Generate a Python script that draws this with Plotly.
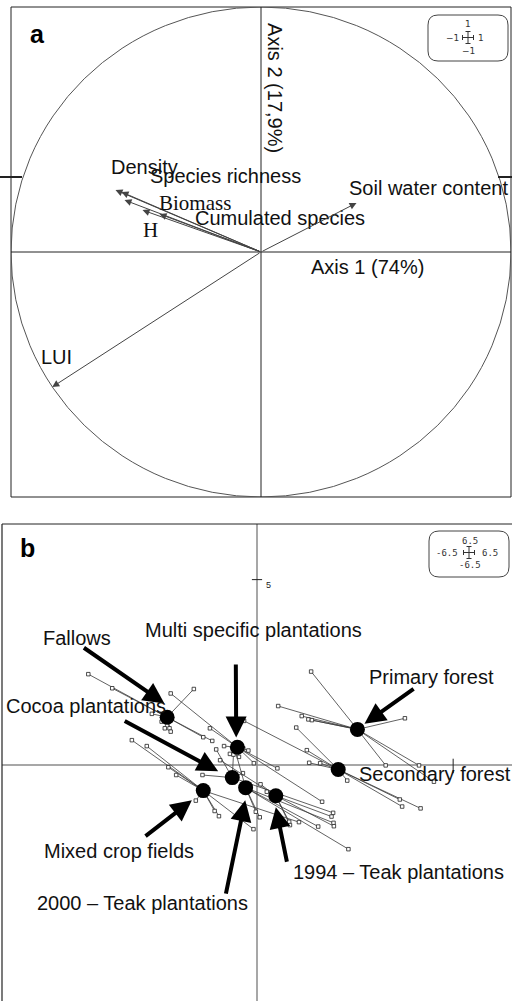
import plotly.graph_objects as go

# ---------------- Data: panel a (correlation circle) ----------------
var_names = ["Density", "Species richness", "Biomass", "H",
             "Cumulated species", "Soil water content", "LUI"]
var_x = [-0.582, -0.558, -0.546, -0.474, -0.406, 0.382, -0.835]
var_y = [0.253, 0.245, 0.212, 0.171, 0.155, 0.200, -0.551]
axis1_label = "Axis 1 (74%)"
axis2_label = "Axis 2 (17,9%)"

# ---------------- Data: panel b (site scores per land use) ----------------
group_names = ["Fallows", "Multi specific plantations", "Cocoa plantations",
               "Mixed crop fields", "2000 – Teak plantations",
               "1994 – Teak plantations", "Primary forest", "Secondary forest"]
centroid_x = [-2.29, -0.50, -0.63, -1.37, -0.29, 0.48, 2.56, 2.07]
centroid_y = [1.29, 0.48, -0.34, -0.69, -0.61, -0.83, 0.96, -0.12]

fallows_x = [-4.30, -3.69, -1.61, -2.68, -2.43, -2.35, -2.23, -2.20, -1.37, -1.14]
fallows_y = [2.45, 2.07, 2.05, 1.38, 1.17, 0.99, 0.99, 0.90, 0.75, 0.65]
multi_x = [-2.20, -1.20, -0.84, -0.69, -0.46, -0.35, -0.22, -0.08, 0.52, 1.66]
multi_y = [1.93, 0.99, 0.51, 0.30, 0.22, 0.45, 0.39, 0.05, -0.09, -0.99]
cocoa_x = [-1.39, -1.04, -0.36, -0.60, 1.94]
cocoa_y = [-0.27, 0.42, -0.22, 0.28, -1.29]
mixed_x = [-3.19, -2.81, -2.26, -2.06, -1.56, -1.08, -0.97, -0.09, 1.07]
mixed_y = [0.67, 0.51, -0.06, -0.27, -0.96, -1.24, -1.38, -1.73, -1.54]
teak2000_x = [-0.03, 0.07, -0.56, 1.95, 1.56, 2.33]
teak2000_y = [-1.26, -1.41, 0.40, -1.56, -1.66, -2.27]
teak1994_x = [0.09, 0.25, 0.82, 0.84, 1.90, 1.96, -0.94]
teak1994_y = [-0.52, -0.72, -1.53, -1.62, -1.39, -1.65, 0.13]
primary_x = [1.38, 0.54, 1.14, 1.31, 1.40, 3.77, 3.28, 4.13, 4.51]
primary_y = [2.52, 1.59, 1.32, 1.23, 1.21, 1.26, -0.01, -0.01, -0.45]
secondary_x = [1.00, 1.27, 1.33, 1.61, -0.33, 2.30, 3.64, 3.70, 4.17]
secondary_y = [1.01, 0.40, 0.06, 0.05, 1.19, -0.42, -0.93, -1.12, -1.17]

group_points = [(fallows_x, fallows_y), (multi_x, multi_y), (cocoa_x, cocoa_y),
                (mixed_x, mixed_y), (teak2000_x, teak2000_y),
                (teak1994_x, teak1994_y), (primary_x, primary_y),
                (secondary_x, secondary_y)]

# ---------------- Layout configuration ----------------
W, H = 512, 1001
FONT = "Liberation Sans, Arial, sans-serif"
SERIF = "Liberation Serif, Times New Roman, serif"

def X(px):
    return px / W

def Y(py):
    return 1 - py / H

# label placement for panel a (data coords of x, y)
var_label_pos = {
    "Density": (-0.466, 0.347), "Species richness": (-0.144, 0.310),
    "Biomass": (-0.266, 0.200), "H": (-0.444, 0.090),
    "Cumulated species": (0.076, 0.139), "Soil water content": (0.668, 0.261),
    "LUI": (-0.82, -0.429),
}
serif_labels = {"Biomass", "H"}

# label placement & callout arrows for panel b (data coords)
group_label_pos = {
    "Fallows": (-4.60, 3.43), "Multi specific plantations": (-0.08, 3.64),
    "Cocoa plantations": (-4.36, 1.59), "Mixed crop fields": (-3.53, -2.32),
    "2000 – Teak plantations": (-2.92, -3.72),
    "1994 – Teak plantations": (3.61, -2.89),
    "Primary forest": (4.44, 2.37), "Secondary forest": (4.54, -0.24),
}
callouts = {  # tail (x, y) -> head (x, y)
    "Fallows": ((-4.45, 3.19), (-2.36, 1.66)),
    "Multi specific plantations": ((-0.54, 2.75), (-0.53, 0.74)),
    "Cocoa plantations": ((-3.41, 1.21), (-0.99, -0.17)),
    "Mixed crop fields": ((-2.88, -1.95), (-1.66, -0.95)),
    "2000 – Teak plantations": ((-0.80, -3.51), (-0.30, -0.95)),
    "1994 – Teak plantations": ((0.77, -2.65), (0.48, -1.14)),
    "Primary forest": ((4.03, 2.08), (2.74, 1.11)),
}

fig = go.Figure()

# ---------- panel b: star lines ----------
for (gx, gy), cx, cy in zip(group_points, centroid_x, centroid_y):
    lx, ly = [], []
    for px_, py_ in zip(gx, gy):
        lx += [px_, cx, None]
        ly += [py_, cy, None]
    fig.add_trace(go.Scatter(x=lx, y=ly, mode="lines", xaxis="x2", yaxis="y2",
                             line=dict(color="#3a3a3a", width=0.8),
                             hoverinfo="skip", showlegend=False))
    fig.add_trace(go.Scatter(x=gx, y=gy, mode="markers", xaxis="x2", yaxis="y2",
                             marker=dict(symbol="square", size=3.5, color="white",
                                         line=dict(color="#222", width=0.8)),
                             showlegend=False))
fig.add_trace(go.Scatter(x=centroid_x, y=centroid_y, mode="markers",
                         xaxis="x2", yaxis="y2",
                         marker=dict(symbol="circle", size=15, color="black"),
                         text=group_names, showlegend=False))

annotations = []
shapes = []

def paper_text(txt, px_, py_, font):
    return dict(x=X(px_), y=Y(py_), xref="paper", yref="paper", text=txt,
                xanchor="center", yanchor="middle", showarrow=False, font=font)

# ---------- panel a ----------
shapes.append(dict(type="rect", xref="paper", yref="paper",
                   x0=X(11), x1=X(511), y0=Y(497), y1=Y(7),
                   line=dict(color="#222", width=1)))
shapes.append(dict(type="circle", xref="x", yref="y", x0=-1, x1=1, y0=-1, y1=1,
                   line=dict(color="#555", width=1)))
shapes.append(dict(type="line", xref="x", yref="y", x0=-1, x1=1, y0=0, y1=0,
                   line=dict(color="#222", width=1)))
shapes.append(dict(type="line", xref="x", yref="y", x0=0, x1=0, y0=-1, y1=1,
                   line=dict(color="#222", width=1)))
# edge marks on panel a
shapes.append(dict(type="line", xref="paper", yref="paper", x0=X(0), x1=X(22),
                   y0=Y(177), y1=Y(177), line=dict(color="#222", width=2)))
shapes.append(dict(type="line", xref="paper", yref="paper", x0=X(498), x1=X(512),
                   y0=Y(177), y1=Y(177), line=dict(color="#222", width=2)))

for name, vx, vy in zip(var_names, var_x, var_y):
    annotations.append(dict(x=vx, y=vy, ax=0, ay=0, xref="x", yref="y",
                            axref="x", ayref="y", text="", showarrow=True,
                            arrowhead=2, arrowsize=1.4, arrowwidth=1,
                            arrowcolor="#444", standoff=0))
    lx, ly = var_label_pos[name]
    annotations.append(dict(x=lx, y=ly, xref="x", yref="y", text=name,
                            xanchor="center", yanchor="middle", showarrow=False,
                            font=dict(family=SERIF if name in serif_labels else FONT,
                                      size=21 if name in serif_labels else 20,
                                      color="#111")))
annotations.append(dict(x=0.424, y=-0.061, xref="x", yref="y", text=axis1_label,
                        xanchor="center", yanchor="middle",
                        showarrow=False, font=dict(family=FONT, size=20, color="#111")))
annotations.append(dict(x=0.056, y=0.669, xref="x", yref="y", text=axis2_label,
                        xanchor="center", yanchor="middle",
                        textangle=90, showarrow=False,
                        font=dict(family=FONT, size=20, color="#111")))
annotations.append(paper_text("<b>a</b>", 37.5, 34, dict(family=FONT, size=25, color="black")))

# ---------- panel b ----------
shapes.append(dict(type="line", xref="paper", yref="paper", x0=X(2), x1=X(512),
                   y0=Y(524), y1=Y(524), line=dict(color="#222", width=1)))
shapes.append(dict(type="line", xref="paper", yref="paper", x0=X(2), x1=X(2),
                   y0=Y(524), y1=Y(1001), line=dict(color="#222", width=1.2)))
shapes.append(dict(type="line", xref="x2", yref="y2", x0=-6.5, x1=6.5, y0=0, y1=0,
                   line=dict(color="#8a8a8a", width=1.5), layer="below"))
shapes.append(dict(type="line", xref="x2", yref="y2", x0=0, x1=0, y0=-6.5, y1=6.5,
                   line=dict(color="#8a8a8a", width=1.5), layer="below"))
# ticks at 5
shapes.append(dict(type="line", xref="x2", yref="y2", x0=-0.13, x1=0.13, y0=5, y1=5,
                   line=dict(color="#222", width=1)))
shapes.append(dict(type="line", xref="x2", yref="y2", x0=5, x1=5, y0=0.17, y1=-0.22,
                   line=dict(color="#222", width=1)))
annotations.append(dict(x=0.17, y=4.85, xref="x2", yref="y2", text="5", showarrow=False,
                        xanchor="left", yanchor="middle",
                        font=dict(family=FONT, size=9, color="#222")))

for name, (tail, head) in callouts.items():
    annotations.append(dict(x=head[0], y=head[1], ax=tail[0], ay=tail[1],
                            xref="x2", yref="y2", axref="x2", ayref="y2",
                            text="", showarrow=True, arrowhead=2, arrowsize=1.05,
                            arrowwidth=4, arrowcolor="black", standoff=0))
for name in group_names:
    lx, ly = group_label_pos[name]
    annotations.append(dict(x=lx, y=ly, xref="x2", yref="y2", text=name,
                            xanchor="center", yanchor="middle",
                            showarrow=False, font=dict(family=FONT, size=20, color="#111")))
annotations.append(paper_text("<b>b</b>", 27.5, 548, dict(family=FONT, size=25, color="black")))

# ---------- scale boxes (top-right legends) ----------
def rounded_box(x0, y0, x1, y1, r):
    return (f"M {X(x0+r)},{Y(y0)} L {X(x1-r)},{Y(y0)} Q {X(x1)},{Y(y0)} {X(x1)},{Y(y0+r)} "
            f"L {X(x1)},{Y(y1-r)} Q {X(x1)},{Y(y1)} {X(x1-r)},{Y(y1)} "
            f"L {X(x0+r)},{Y(y1)} Q {X(x0)},{Y(y1)} {X(x0)},{Y(y1-r)} "
            f"L {X(x0)},{Y(y0+r)} Q {X(x0)},{Y(y0)} {X(x0+r)},{Y(y0)} Z")

def cross(cx, cy, half_w, half_h):
    out = []
    ln = dict(color="#333", width=1)
    out.append(dict(type="line", xref="paper", yref="paper", x0=X(cx-half_w), x1=X(cx+half_w),
                    y0=Y(cy), y1=Y(cy), line=ln))
    out.append(dict(type="line", xref="paper", yref="paper", x0=X(cx), x1=X(cx),
                    y0=Y(cy-half_h), y1=Y(cy+half_h), line=ln))
    for sx in (-half_w, half_w):
        out.append(dict(type="line", xref="paper", yref="paper", x0=X(cx+sx), x1=X(cx+sx),
                        y0=Y(cy-2.5), y1=Y(cy+2.5), line=ln))
    for sy in (-half_h, half_h):
        out.append(dict(type="line", xref="paper", yref="paper", x0=X(cx-2.5), x1=X(cx+2.5),
                        y0=Y(cy+sy), y1=Y(cy+sy), line=ln))
    return out

shapes.append(dict(type="path", xref="paper", yref="paper",
                   path=rounded_box(428, 15, 508, 61, 10), line=dict(color="#444", width=1)))
shapes += cross(468, 37.5, 5.5, 6)
box_font_a = dict(family="DejaVu Sans, sans-serif", size=9, color="#333")
for txt, px_, py_ in [("1", 467.5, 23.5), ("\u22121", 452, 37.5), ("1", 481, 37.5),
                      ("\u22121", 468, 51.5)]:
    annotations.append(paper_text(txt, px_, py_, box_font_a))

shapes.append(dict(type="path", xref="paper", yref="paper",
                   path=rounded_box(429, 531, 509, 577, 10), line=dict(color="#444", width=1)))
shapes += cross(469, 552.5, 5.5, 6)
box_font_b = dict(family="DejaVu Sans Mono, monospace", size=9, color="#333")
for txt, px_, py_ in [("6.5", 470, 540.5), ("-6.5", 447, 552.5), ("6.5", 490, 552.5),
                      ("-6.5", 470, 564.5)]:
    annotations.append(paper_text(txt, px_, py_, box_font_b))

axis_common = dict(visible=False, showgrid=False, zeroline=False, fixedrange=True)
fig.update_layout(
    width=W, height=H, margin=dict(l=0, r=0, t=0, b=0),
    paper_bgcolor="white", plot_bgcolor="white",
    showlegend=False, font=dict(family=FONT),
    xaxis=dict(domain=[X(11), X(511)], range=[-1, 1], **axis_common),
    yaxis=dict(domain=[Y(497), Y(7)], range=[-1, 1], **axis_common),
    xaxis2=dict(domain=[X(2), 1.0], range=[-6.5, 6.5], anchor="y2", **axis_common),
    yaxis2=dict(domain=[0, Y(524)], range=[-(H - 765) / 37.08, 6.5], anchor="x2",
                **axis_common),
    shapes=shapes, annotations=annotations,
)

fig.write_html(
    "out.html",
    config={"displayModeBar": False},
    post_script="document.body.style.margin='0';document.body.style.padding='0';"
                "document.body.style.overflow='hidden';"
                "document.documentElement.style.overflow='hidden';",
)
